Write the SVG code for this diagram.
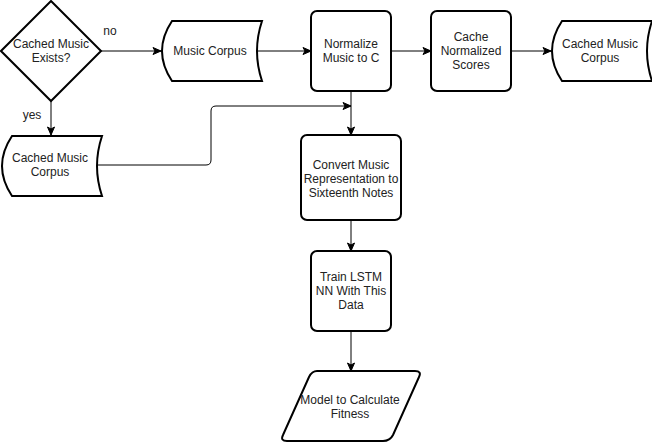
<svg xmlns="http://www.w3.org/2000/svg" width="652" height="442" viewBox="0 0 652 442">
<style>
.shape{fill:#fff;stroke:#000;stroke-width:2}
.edge{fill:none;stroke:#000;stroke-width:1}
text{font-family:"Liberation Sans",Arial,sans-serif;font-size:12px;fill:#222;text-anchor:middle}
</style>
<defs>
<marker id="arr" markerUnits="userSpaceOnUse" markerWidth="10" markerHeight="10" viewBox="0 0 10 10" refX="9" refY="5" orient="auto">
<path d="M1,1.5 L9,5 L1,8.5 L3,5 Z" fill="#000" stroke="#000" stroke-width="1"/>
</marker>
</defs>
<rect width="652" height="442" fill="#fff"/>
<g id="connectors">
<path class="edge" d="M101,51 H161" marker-end="url(#arr)"/>
<path class="edge" d="M51,101 V135" marker-end="url(#arr)"/>
<path class="edge" d="M257,51 H311" marker-end="url(#arr)"/>
<path class="edge" d="M391,51 H431" marker-end="url(#arr)"/>
<path class="edge" d="M511,51 H551" marker-end="url(#arr)"/>
<path class="edge" d="M351,91 V135" marker-end="url(#arr)"/>
<path class="edge" d="M97,165 H206 Q211,165 211,160 V111 Q211,106 216,106 H351" marker-end="url(#arr)"/>
<path class="edge" d="M351,220 V251" marker-end="url(#arr)"/>
<path class="edge" d="M351,331 V371" marker-end="url(#arr)"/>
<text x="110" y="35">no</text>
<text x="32" y="119">yes</text>
</g>
<g id="decision">
<path class="shape" d="M51,1 L101,51 L51,101 L1,51 Z"/>
<text x="51" y="48">Cached Music</text>
<text x="51" y="62">Exists?</text>
</g>
<g id="music-corpus">
<path class="shape" d="M172,21 H262 Q252,51 262,81 H172 Q152,51 172,21 Z"/>
<text x="210" y="55">Music Corpus</text>
</g>
<g id="cached-corpus-left">
<path class="shape" d="M12,136 H102 Q92,166 102,196 H12 Q-8,166 12,136 Z"/>
<text x="50" y="162">Cached Music</text>
<text x="50" y="176">Corpus</text>
</g>
<g id="normalize">
<rect class="shape" x="311" y="11" width="80" height="80" rx="6"/>
<text x="351" y="48">Normalize</text>
<text x="351" y="62">Music to C</text>
</g>
<g id="cache-scores">
<rect class="shape" x="431" y="11" width="80" height="80" rx="6"/>
<text x="471" y="41">Cache</text>
<text x="471" y="55">Normalized</text>
<text x="471" y="69">Scores</text>
</g>
<g id="cached-corpus-right">
<path class="shape" d="M562,21 H652 Q642,51 652,81 H562 Q542,51 562,21 Z"/>
<text x="600" y="48">Cached Music</text>
<text x="600" y="62">Corpus</text>
</g>
<g id="convert">
<rect class="shape" x="301" y="135" width="100" height="85" rx="6"/>
<text x="351" y="169">Convert Music</text>
<text x="351" y="183">Representation to</text>
<text x="351" y="197">Sixteenth Notes</text>
</g>
<g id="train">
<rect class="shape" x="311" y="251" width="80" height="80" rx="6"/>
<text x="351" y="281">Train LSTM</text>
<text x="351" y="295">NN With This</text>
<text x="351" y="309">Data</text>
</g>
<g id="model">
<path class="shape" d="M317,371 H415 Q422,371 419,377 L393,435 Q390,441 383,441 H287 Q280,441 283,435 L309,377 Q312,371 317,371 Z"/>
<text x="350" y="404">Model to Calculate</text>
<text x="350" y="418">Fitness</text>
</g>
</svg>
